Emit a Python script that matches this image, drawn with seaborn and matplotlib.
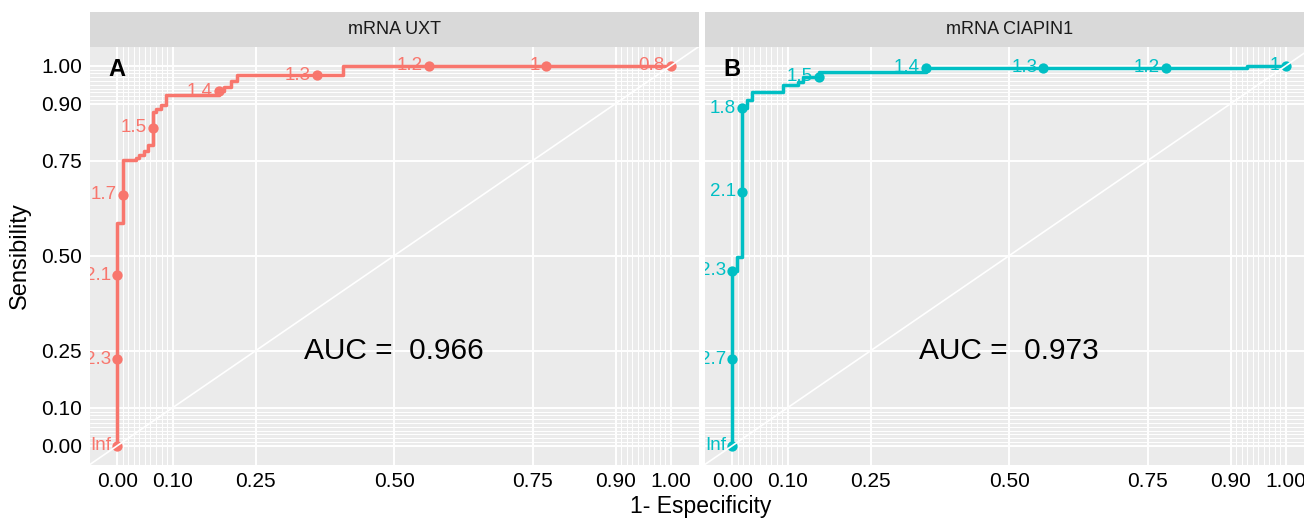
import numpy as np
import pandas as pd
import matplotlib
matplotlib.use("Agg")
import matplotlib.pyplot as plt
import matplotlib.transforms as mtransforms
import seaborn as sns

# ── Data ──────────────────────────────────────────────────────────────────────
# step vertices of each empirical ROC curve (FPF = 1 - specificity, TPF = sensitivity)
UXT_FPF = [0, 0, 0.010, 0.010, 0.034, 0.034, 0.040, 0.040, 0.048, 0.048, 0.056,
           0.056, 0.064, 0.064, 0.070, 0.070, 0.079, 0.079, 0.088, 0.088, 0.184,
           0.184, 0.193, 0.193, 0.205, 0.205, 0.216, 0.216, 0.407, 0.407, 1.0]
UXT_TPF = [0, 0.585, 0.585, 0.752, 0.752, 0.758, 0.758, 0.764, 0.764, 0.776, 0.776,
           0.792, 0.792, 0.877, 0.877, 0.885, 0.885, 0.897, 0.897, 0.923, 0.923,
           0.933, 0.933, 0.945, 0.945, 0.960, 0.960, 0.975, 0.975, 1.0, 1.0]

CIA_FPF = [0, 0, 0.009, 0.009, 0.018, 0.018, 0.026, 0.026, 0.035, 0.035, 0.091,
           0.091, 0.119, 0.119, 0.128, 0.128, 0.157, 0.157, 0.350, 0.350, 0.929,
           0.929, 1.0]
CIA_TPF = [0, 0.460, 0.460, 0.496, 0.496, 0.888, 0.888, 0.910, 0.910, 0.932, 0.932,
           0.949, 0.949, 0.958, 0.958, 0.971, 0.971, 0.984, 0.984, 0.995, 0.995,
           1.0, 1.0]

# labelled cutoff points
UXT_CUT_LABELS = ["Inf", "2.3", "2.1", "1.7", "1.5", "1.4", "1.3", "1.2", "1", "0.8"]
UXT_CUT_FPF    = [0, 0, 0, 0.010, 0.064, 0.184, 0.360, 0.563, 0.774, 1.0]
UXT_CUT_TPF    = [0, 0.228, 0.448, 0.660, 0.837, 0.933, 0.975, 1.0, 1.0, 1.0]

CIA_CUT_LABELS = ["Inf", "2.7", "2.3", "2.1", "1.8", "1.5", "1.4", "1.3", "1.2", "1"]
CIA_CUT_FPF    = [0, 0, 0, 0.018, 0.018, 0.157, 0.350, 0.562, 0.783, 1.0]
CIA_CUT_TPF    = [0, 0.228, 0.460, 0.668, 0.888, 0.971, 0.995, 0.995, 0.995, 1.0]

PANELS     = ["mRNA UXT", "mRNA CIAPIN1"]
TAGS       = ["A", "B"]
AUC_VALUES = ["0.966", "0.973"]

MAJOR_BREAKS = [0, 0.1, 0.25, 0.5, 0.75, 0.9, 1.0]
MAJOR_LABELS = ["0.00", "0.10", "0.25", "0.50", "0.75", "0.90", "1.00"]
MINOR_BREAKS = [i / 100 for i in range(0, 11)] + [i / 100 for i in range(90, 101)]

# ── Style ─────────────────────────────────────────────────────────────────────
COLORS = ["#F8766D", "#00BFC4"]
PANEL_BG, STRIP_BG = "#EBEBEB", "#D9D9D9"
TICK_C = "#333333"

sns.set_style("darkgrid", {"axes.facecolor": PANEL_BG, "grid.color": "white"})
plt.rcParams["font.family"] = ["Liberation Sans", "DejaVu Sans"]

W, H = 1304, 519
fig = plt.figure(figsize=(W / 100, H / 100), dpi=100, facecolor="white")


def px_axes(left, top, right, bottom):
    return fig.add_axes([left / W, 1 - bottom / H, (right - left) / W, (bottom - top) / H])


curves = [(UXT_FPF, UXT_TPF, UXT_CUT_FPF, UXT_CUT_TPF, UXT_CUT_LABELS),
          (CIA_FPF, CIA_TPF, CIA_CUT_FPF, CIA_CUT_TPF, CIA_CUT_LABELS)]
lefts = [89.6, 704.6]
pw = 609.0

for i, (fpf, tpf, cx, cy, clab) in enumerate(curves):
    col = COLORS[i]
    ax = px_axes(lefts[i], 46.7, lefts[i] + pw, 464.7)

    roc = pd.DataFrame({"fpf": fpf, "tpf": tpf})
    cuts = pd.DataFrame({"fpf": cx, "tpf": cy, "label": clab})

    sns.lineplot(data=roc, x="fpf", y="tpf", sort=False, estimator=None,
                 color=col, linewidth=2.5, ax=ax, zorder=3)
    sns.scatterplot(data=cuts, x="fpf", y="tpf", color=col, s=55,
                    linewidth=0, ax=ax, zorder=4)

    offset = mtransforms.ScaledTranslation(-4.5 / 72, 0, fig.dpi_scale_trans)
    for _, r in cuts.iterrows():
        t = ax.text(r["fpf"], r["tpf"], r["label"], transform=ax.transData + offset,
                    ha="right", va="center", fontsize=13.5, color=col, zorder=2)
        t.set_clip_on(True)
        t.set_clip_path(ax.patch)

    # reference diagonal drawn on top, like geom_abline
    ax.axline((0, 0), (1, 1), color="white", linewidth=1.2, zorder=5)

    ax.text(0, 0.99, TAGS[i], ha="center", va="center", fontsize=17,
            fontweight="bold", color="black", zorder=6)
    ax.text(0.5, 0.25, f"AUC =  {AUC_VALUES[i]}", ha="center", va="center",
            fontsize=21.5, color="black", zorder=6)

    ax.set_xlim(-0.05, 1.05)
    ax.set_ylim(-0.05, 1.05)
    ax.set_xticks(MAJOR_BREAKS)
    ax.set_xticks(MINOR_BREAKS, minor=True)
    ax.set_yticks(MAJOR_BREAKS)
    ax.set_yticks(MINOR_BREAKS, minor=True)
    ax.set_xticklabels(MAJOR_LABELS)
    ax.set_yticklabels(MAJOR_LABELS)
    ax.grid(True, which="major", color="white", linewidth=1.4)
    ax.grid(True, which="minor", color="white", linewidth=0.7)
    ax.tick_params(which="major", length=3, width=0.9, color=TICK_C,
                   labelsize=15, labelcolor="black", pad=2.5)
    ax.tick_params(which="minor", length=0)
    if i == 1:
        ax.tick_params(axis="y", which="both", length=0, labelleft=False)
    for s in ax.spines.values():
        s.set_visible(False)
    ax.set_xlabel("")
    ax.set_ylabel("")

    # facet strip
    st = px_axes(lefts[i], 12.3, lefts[i] + pw, 46.7)
    st.set_facecolor(STRIP_BG)
    st.grid(False)
    st.set_xticks([])
    st.set_yticks([])
    for s in st.spines.values():
        s.set_visible(False)
    st.text(0.5, 0.5, PANELS[i], transform=st.transAxes, ha="center", va="center",
            fontsize=13, color="#1A1A1A")

fig.text(20 / W, 1 - 255.7 / H, "Sensibility", rotation=90, ha="center",
         va="center", fontsize=17, color="black")
fig.text(701 / W, 1.5 / H, "1- Especificity", ha="center", va="bottom",
         fontsize=16.5, color="black")

fig.savefig("out.png", dpi=100, facecolor="white")
plt.close(fig)
